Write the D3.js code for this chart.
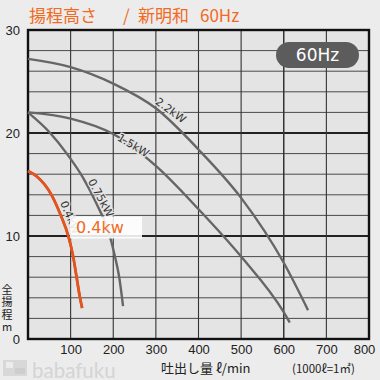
<!DOCTYPE html>
<html><head><meta charset="utf-8">
<script src="https://cdn.jsdelivr.net/npm/d3@7"></script>
<style>html,body{margin:0;padding:0;background:#ececec;}svg{display:block;}</style>
</head><body>
<svg id="c" width="380" height="380"></svg>
<script>
// ---- data ----
const titleParts = ["揚程高さ", "/", "新明和", "60Hz"];
const badgeText = "60Hz";
const xTicks = [100, 200, 300, 400, 500, 600, 700, 800];
const yTicks = [0, 10, 20, 30];
const seriesNames = ["2.2kW", "1.5kW", "0.75kW", "0.4kW"];
const q22 = [0, 100, 200, 300, 400, 500, 600, 657];
const h22 = [27.2, 26.4, 24.8, 22.4, 18.4, 13.7, 7.4, 2.8];
const q15 = [0, 100, 200, 300, 400, 500, 600, 614];
const h15 = [22.0, 21.4, 19.9, 16.8, 12.6, 8.0, 2.6, 1.6];
const q075 = [0, 52, 91, 130, 160, 192, 204, 214, 223];
const h075 = [22.0, 20.0, 18.0, 15.6, 13.2, 10.0, 8.0, 6.0, 3.2];
const q04 = [0, 20, 55, 77, 94.5, 106, 114, 122, 127];
const h04 = [16.3, 15.8, 14.0, 12.0, 10.0, 8.0, 6.0, 4.0, 3.0];
const highlightLabel = "0.4kw";

const svg = d3.select("#c");
const x = d3.scaleLinear().domain([0, 800]).range([28, 369]);
const y = d3.scaleLinear().domain([0, 30]).range([339, 30]);

// background
svg.append("rect").attr("width", 380).attr("height", 380).attr("fill", "#ececec");
svg.append("rect").attr("x", x(0)).attr("y", y(30)).attr("width", x(800) - x(0)).attr("height", y(0) - y(30)).attr("fill", "#e4e4e4");

// grid
const g = svg.append("g");
d3.range(2, 30, 2).forEach(v => {
  g.append("line").attr("x1", x(0)).attr("x2", x(800)).attr("y1", y(v)).attr("y2", y(v))
    .attr("stroke", v % 10 === 0 ? "#222" : "#4a4a4a").attr("stroke-width", v % 10 === 0 ? 1.8 : 1);
});
d3.range(100, 800, 100).forEach(v => {
  g.append("line").attr("y1", y(0)).attr("y2", y(30)).attr("x1", x(v)).attr("x2", x(v))
    .attr("stroke", "#333").attr("stroke-width", v === 600 ? 1.5 : 1.1);
});
// frame
svg.append("rect").attr("x", x(0)).attr("y", y(30)).attr("width", x(800) - x(0)).attr("height", y(0) - y(30))
  .attr("fill", "none").attr("stroke", "#111").attr("stroke-width", 2.4);

// axis ticks
const xAxis = d3.axisBottom(x).tickValues(xTicks).tickSize(0).tickPadding(0);
const xa = svg.append("g").attr("transform", `translate(0,${y(0) + 15})`).call(xAxis);
xa.select(".domain").remove();
xa.selectAll("text").attr("font-family", "Liberation Sans, Arial, sans-serif").attr("font-size", 13).attr("fill", "#222")
  .attr("dy", 0).attr("dx", d => d === 800 ? -5 : 0);
const yAxis = d3.axisLeft(y).tickValues(yTicks).tickSize(0).tickPadding(0);
const ya = svg.append("g").attr("transform", `translate(${x(0) - 8},0)`).call(yAxis);
ya.select(".domain").remove();
ya.selectAll("text").attr("font-family", "Liberation Sans, Arial, sans-serif").attr("font-size", 13).attr("fill", "#222");

// curves
const line = d3.line().curve(d3.curveMonotoneX);
const mk = (qs, hs) => qs.map((q, i) => [x(q), y(hs[i])]);
[[q22, h22], [q15, h15], [q075, h075], [q04, h04]].forEach(([qs, hs]) => {
  svg.append("path").attr("d", line(mk(qs, hs))).attr("fill", "none").attr("stroke", "#666").attr("stroke-width", 2.4);
});

// curve labels
const labelPos = [
  {q: 335, h: 22.2, a: 36},
  {q: 247, h: 18.8, a: 31},
  {q: 171, h: 13.7, a: 62},
  {q: 99, h: 11.8, a: 68}
];
seriesNames.forEach((n, i) => {
  const p = labelPos[i];
  svg.append("text").attr("transform", `translate(${x(p.q)},${y(p.h)}) rotate(${p.a})`)
    .attr("text-anchor", "middle").attr("dy", "0.35em")
    .attr("font-family", "DejaVu Sans, sans-serif").attr("font-size", 11).attr("fill", "#333")
    .attr("stroke", "#e4e4e4").attr("stroke-width", 2.5).attr("paint-order", "stroke")
    .text(n);
});

// highlighted curve
svg.append("path").attr("d", line(mk(q04, h04))).attr("fill", "none").attr("stroke", "#e8521b").attr("stroke-width", 2.8);

// highlight box
svg.append("rect").attr("x", 70).attr("y", 216.5).attr("width", 72).attr("height", 22).attr("fill", "#fff").attr("fill-opacity", 0.88);
svg.append("text").attr("x", 76).attr("y", 233).attr("font-family", "DejaVu Sans, sans-serif").attr("font-size", 16)
  .attr("fill", "#f06a23").text(highlightLabel);

// badge
svg.append("rect").attr("x", 276).attr("y", 42).attr("width", 83).attr("height", 26).attr("rx", 13).attr("fill", "#5c5c5c");
svg.append("text").attr("x", 317.5).attr("y", 61).attr("text-anchor", "middle").attr("font-family", "DejaVu Sans, sans-serif")
  .attr("font-size", 17).attr("fill", "#fff").text(badgeText);

// title
const tt = svg.append("text").attr("y", 22).attr("font-family", "Noto Sans CJK JP, sans-serif").attr("font-size", 17)
  .attr("fill", "#f26a1e");
const titleX = [29, 123, 138, 200];
titleParts.forEach((p, i) => tt.append("tspan").attr("x", titleX[i]).text(p));

// y title (vertical, one text)
svg.append("text").attr("transform", "translate(7,284)")
  .attr("font-family", "Noto Sans CJK JP, sans-serif").attr("font-size", 11).attr("fill", "#222")
  .style("writing-mode", "vertical-rl").style("text-orientation", "upright").attr("letter-spacing", 1.5)
  .text("全揚程m");

// x title
svg.append("text").attr("x", 161).attr("y", 373).attr("font-family", "Noto Sans CJK JP, sans-serif").attr("font-size", 13)
  .attr("fill", "#222").attr("xml:space", "preserve").style("white-space", "pre").text("吐出し量 ℓ/min");
svg.append("text").attr("x", 292).attr("y", 373).attr("font-family", "Noto Sans CJK JP, sans-serif").attr("font-size", 11.5)
  .attr("fill", "#222").text("(1000ℓ=1㎥)");

// watermark
const wm = svg.append("g");
wm.append("rect").attr("x", 3).attr("y", 360).attr("width", 24).attr("height", 16).attr("fill", "#d8d8d8");
wm.append("rect").attr("x", 6).attr("y", 362).attr("width", 7).attr("height", 6).attr("fill", "#ececec");
wm.append("rect").attr("x", 15).attr("y", 368).attr("width", 10).attr("height", 6).attr("fill", "#cdcdcd");
wm.append("text").attr("x", 32).attr("y", 377.5).attr("font-family", "Lato, sans-serif").attr("font-size", 20.5)
  .attr("fill", "#d4d4d4").text("babafuku");
</script>
</body></html>
